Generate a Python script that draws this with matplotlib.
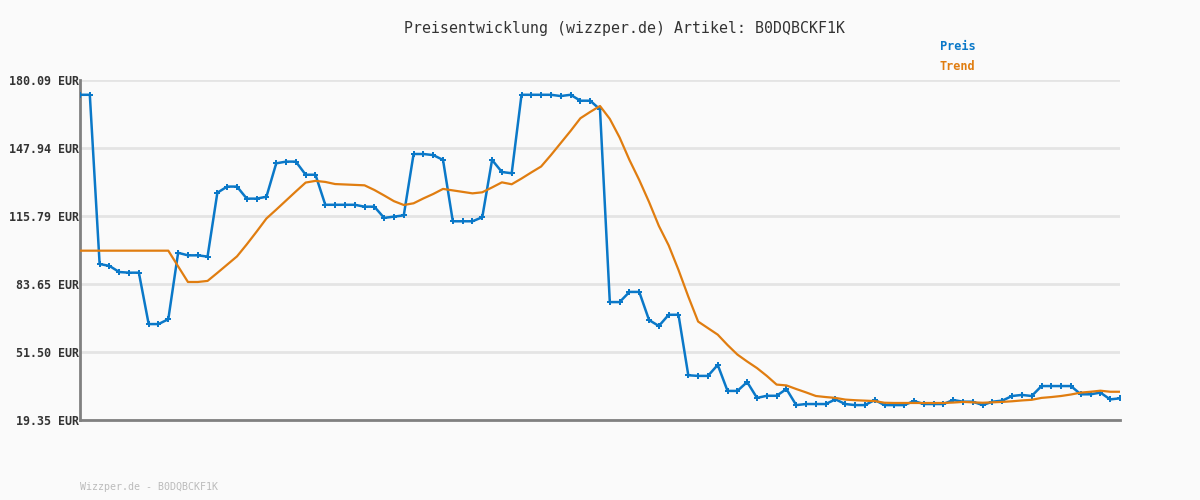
import matplotlib
matplotlib.use("Agg")
import matplotlib.pyplot as plt
import numpy as np

TITLE = "Preisentwicklung (wizzper.de) Artikel: B0DQBCKF1K"
FOOTER = "Wizzper.de - B0DQBCKF1K"

y_ticks = [19.35, 51.50, 83.65, 115.79, 147.94, 180.09]

# price per observation (EUR)
preis = [
    173.1, 173.1, 93.1, 92.2, 89.3, 89.0, 89.0, 64.7, 64.7, 67.0,
    98.4, 97.2, 97.2, 96.6, 126.8, 129.7, 129.7, 124.0, 124.0, 124.9,
    140.7, 141.5, 141.5, 135.3, 135.3, 121.1, 121.1, 121.1, 121.1, 120.2,
    120.2, 114.9, 115.5, 116.1, 145.1, 145.1, 144.6, 142.3, 113.3, 113.3,
    113.3, 115.2, 142.3, 136.6, 136.0, 173.1, 173.1, 173.1, 173.1, 172.5,
    173.1, 170.3, 170.3, 166.2, 75.1, 75.1, 79.9, 79.9, 66.6, 63.8,
    69.1, 69.1, 40.5, 40.2, 40.2, 45.4, 33.1, 33.1, 37.3, 29.8,
    30.8, 30.8, 34.0, 26.4, 26.9, 26.9, 26.9, 29.1, 26.9, 26.4,
    26.4, 28.8, 26.4, 26.4, 26.4, 28.3, 26.9, 26.9, 26.9, 28.8,
    28.0, 28.0, 26.4, 28.0, 28.5, 30.7, 31.2, 30.7, 35.4, 35.4,
    35.4, 35.4, 31.5, 31.5, 32.3, 29.1, 29.6,
]

# trend line (EUR)
trend = [
    99.4, 99.4, 99.4, 99.4, 99.4, 99.4, 99.4, 99.4, 99.4, 99.4,
    92.0, 84.6, 84.6, 85.1, 88.9, 92.8, 96.7, 102.4, 108.4, 114.6,
    118.8, 123.1, 127.4, 131.6, 132.4, 131.9, 130.9, 130.7, 130.5, 130.3,
    128.1, 125.5, 122.8, 121.0, 121.8, 124.1, 126.2, 128.6, 127.9, 127.2,
    126.5, 127.0, 129.3, 131.7, 130.8, 133.5, 136.4, 139.2, 144.6, 150.3,
    156.0, 162.0, 165.0, 167.8, 161.7, 152.9, 142.3, 132.8, 122.4, 111.1,
    101.9, 90.3, 77.7, 65.9, 62.8, 59.7, 54.8, 50.3, 47.0, 43.9,
    40.2, 36.1, 35.7, 34.0, 32.4, 30.7, 30.2, 29.8, 29.0, 28.7,
    28.5, 28.3, 27.5, 27.4, 27.4, 27.4, 27.4, 27.4, 27.4, 27.6,
    27.9, 27.7, 27.5, 27.7, 27.9, 28.2, 28.6, 28.9, 29.8, 30.2,
    30.7, 31.4, 32.3, 32.7, 33.2, 32.7, 32.7,
]

BG = "#fafafa"
BLUE = "#0a78c8"
ORANGE = "#e07d10"
MONO = "DejaVu Sans Mono"

fig = plt.figure(figsize=(12, 5), dpi=100, facecolor=BG)
ax = fig.add_axes([80 / 1200, 80 / 500, 1040 / 1200, 340 / 500], facecolor=BG)

x = np.arange(len(preis))
ax.plot(x, preis, color=BLUE, linewidth=1.8, marker="P", markersize=4.5,
        markeredgewidth=0, zorder=3)
ax.plot(x, trend, color=ORANGE, linewidth=1.6, zorder=4)

ax.set_xlim(0, len(preis) - 1)
ax.set_ylim(y_ticks[0], y_ticks[-1])
ax.set_yticks(y_ticks)
ax.set_yticklabels([f"{v:.2f} EUR" for v in y_ticks], fontfamily=MONO,
                   fontweight="bold", fontsize=8.4, color="#333333")
ax.set_xticks([])
ax.tick_params(axis="y", length=0, pad=1)
ax.grid(axis="y", color="#e4e4e4", linewidth=2, zorder=0)

for side in ["top", "right"]:
    ax.spines[side].set_visible(False)
for side in ["left", "bottom"]:
    ax.spines[side].set_color("#808080")
    ax.spines[side].set_linewidth(2)

fig.text(624 / 1200, 1 - 28 / 500, TITLE, ha="center", va="center",
         fontfamily=MONO, fontsize=10.7, color="#333333")
fig.text(940 / 1200, 1 - 47 / 500, "Preis", ha="left", va="center",
         fontfamily=MONO, fontweight="bold", fontsize=8.6, color=BLUE)
fig.text(940 / 1200, 1 - 67 / 500, "Trend", ha="left", va="center",
         fontfamily=MONO, fontweight="bold", fontsize=8.6, color=ORANGE)
fig.text(80 / 1200, 1 - 487 / 500, FOOTER, ha="left", va="center",
         fontfamily=MONO, fontsize=7.2, color="#bbbbbb")

fig.savefig("out.png", dpi=100, facecolor=BG)
